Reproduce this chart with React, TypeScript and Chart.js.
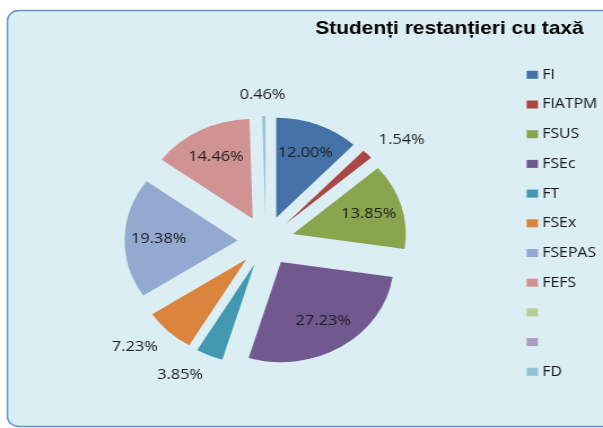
import React, { useEffect, useRef } from 'react';
import { Chart, registerables } from 'chart.js';

Chart.register(...registerables);

// ---- data ----
const categories = ['FI', 'FIATPM', 'FSUS', 'FSEc', 'FT', 'FSEx', 'FSEPAS', 'FEFS', '', '', 'FD'];
const shares = [12.0, 1.54, 13.85, 27.23, 3.85, 7.23, 19.38, 14.46, 0, 0, 0.46];
const sliceColors = ['#4572A7', '#AA4643', '#89A54E', '#71588F', '#4198AF', '#DB843D', '#93A9CF', '#D19392', '#B9CD96', '#A99BBD', '#93C4D5'];
const chartTitle = 'Studenți restanțieri cu taxă';

// ---- layout / style ----
const W = 534;
const H = 428;
const STRETCH = 603 / W;
const EXPLODE = 25;

const framePlugin = {
  id: 'frame',
  beforeDraw(chart: any) {
    const ctx = chart.ctx;
    ctx.save();
    ctx.fillStyle = '#ffffff';
    ctx.fillRect(0, 0, chart.width, chart.height);
    ctx.beginPath();
    ctx.roundRect(6.6, 10.5, chart.width + 20, 416, 10);
    ctx.fillStyle = '#DBEEF4';
    ctx.fill();
    ctx.lineWidth = 1.4;
    ctx.strokeStyle = '#6592D2';
    ctx.stroke();
    ctx.restore();
  },
};

const explodePlugin = {
  id: 'explode',
  beforeDatasetDraw(chart: any, args: any) {
    const ctx = chart.ctx;
    args.meta.data.forEach((arc: any) => {
      const { startAngle, endAngle } = arc.getProps(['startAngle', 'endAngle'], true);
      const mid = (startAngle + endAngle) / 2;
      ctx.save();
      ctx.translate(Math.cos(mid) * EXPLODE, Math.sin(mid) * EXPLODE);
      arc.draw(ctx, chart.chartArea);
      ctx.restore();
    });
    return false;
  },
};

const labelPlugin = {
  id: 'sliceLabels',
  afterDatasetsDraw(chart: any) {
    const ctx = chart.ctx;
    const meta = chart.getDatasetMeta(0);
    ctx.save();
    ctx.font = '14.5px "Open Sans"';
    ctx.fillStyle = '#1e1e1e';
    ctx.textAlign = 'center';
    ctx.textBaseline = 'middle';
    meta.data.forEach((arc: any, i: number) => {
      const v = shares[i];
      if (!v) return;
      const { x, y, startAngle, endAngle, outerRadius } = arc.getProps(
        ['x', 'y', 'startAngle', 'endAngle', 'outerRadius'],
        true
      );
      const mid = (startAngle + endAngle) / 2;
      const dx = Math.cos(mid);
      const dy = Math.sin(mid);
      const ox = x + dx * EXPLODE;
      const oy = y + dy * EXPLODE;
      const text = v.toFixed(2) + '%';
      let tx: number;
      let ty: number;
      if (v >= 10) {
        tx = ox + dx * outerRadius * 0.7;
        ty = oy + dy * outerRadius * 0.7;
      } else {
        const hw = ctx.measureText(text).width / 2;
        const hh = 7;
        const r = outerRadius + 14;
        tx = ox + dx * r + hw * Math.max(-1, Math.min(1, dx * 3));
        ty = oy + dy * r + hh * dy;
      }
      ctx.fillText(text, tx, ty);
    });
    ctx.restore();
  },
};

const titleLegendPlugin = {
  id: 'titleLegend',
  afterDraw(chart: any) {
    const ctx = chart.ctx;
    ctx.save();
    // title
    ctx.font = 'bold 18.5px "Liberation Sans"';
    ctx.fillStyle = '#000000';
    ctx.textAlign = 'center';
    ctx.textBaseline = 'alphabetic';
    ctx.fillText(chartTitle, 398, 34);
    // legend
    ctx.font = '14px "Open Sans"';
    ctx.textAlign = 'left';
    ctx.textBaseline = 'middle';
    categories.forEach((label, i) => {
      const cy = 74.8 + i * 29.7;
      ctx.fillStyle = sliceColors[i];
      ctx.fillRect(466.4, cy - 4, 10, 8);
      ctx.fillStyle = '#141414';
      ctx.fillText(label, 480.2, cy);
    });
    ctx.restore();
  },
};

export default function App() {
  const ref = useRef<HTMLCanvasElement>(null);
  useEffect(() => {
    const chart = new Chart(ref.current as HTMLCanvasElement, {
      type: 'pie',
      data: {
        labels: categories,
        datasets: [
          {
            data: shares,
            backgroundColor: sliceColors,
            borderWidth: 0,
          },
        ],
      },
      options: {
        responsive: false,
        animation: false,
        devicePixelRatio: 1,
        events: [],
        radius: 100,
        layout: { padding: { left: 0, right: W - 2 * 235.4, top: 54, bottom: 0 } },
        plugins: {
          legend: { display: false },
          title: { display: false },
          tooltip: { enabled: false },
        },
      } as any,
      plugins: [framePlugin, explodePlugin, labelPlugin, titleLegendPlugin],
    });
    return () => chart.destroy();
  }, []);
  return (
    <canvas
      ref={ref}
      width={W}
      height={H}
      style={{
        position: 'absolute',
        left: 0,
        top: 0,
        width: W + 'px',
        height: H + 'px',
        transform: `scaleX(${STRETCH})`,
        transformOrigin: '0 0',
      }}
    />
  );
}
